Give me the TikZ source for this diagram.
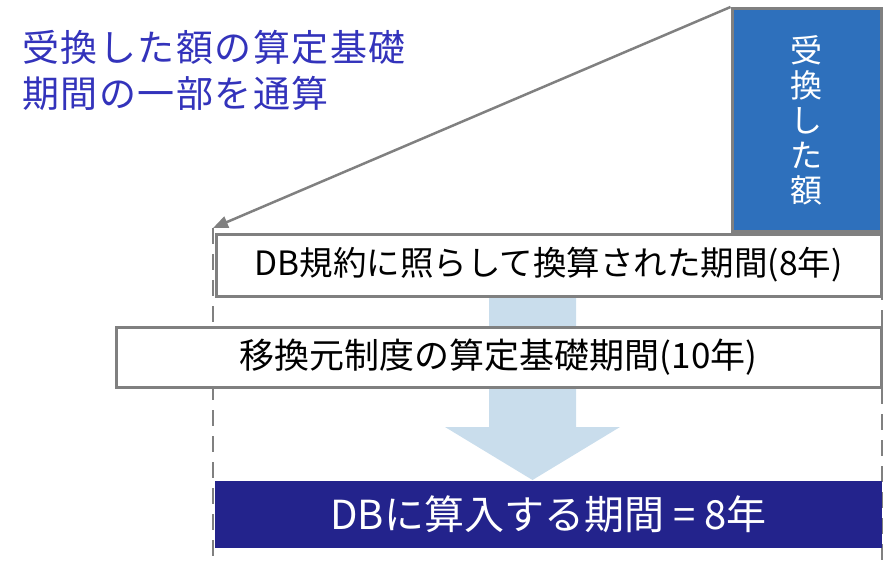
\documentclass[tikz,border=0pt]{standalone}
\usepackage{fontspec}
\setmainfont{Noto Sans CJK JP}
\newfontfamily\titlefont[LetterSpace=4]{Noto Sans CJK JP}
\usetikzlibrary{arrows.meta}
\definecolor{titleblue}{RGB}{51,51,187}
\definecolor{recvblue}{RGB}{46,112,188}
\definecolor{bordergray}{RGB}{128,128,128}
\definecolor{arrowblue}{RGB}{201,221,236}
\definecolor{navyfill}{RGB}{35,35,140}
\begin{document}
\begin{tikzpicture}[x=1pt,y=-1pt,
  titletext/.style={anchor=base west, inner sep=0pt, text=titleblue, font=\titlefont\fontsize{37}{40}\selectfont},
  periodbox/.style={draw=bordergray, line width=3pt, fill=white, inner sep=0pt, text=black, font=\fontsize{33.5}{40}\selectfont},
  recvbox/.style={draw=bordergray, line width=3pt, fill=recvblue, inner sep=0pt, text=white, align=center, font=\fontsize{32}{35}\selectfont},
  resultbox/.style={fill=navyfill, inner sep=0pt, text=white, font=\fontsize{40}{44}\selectfont},
  guide/.style={draw=bordergray, line width=2.5pt, dash pattern=on 16pt off 10pt},
  pointer/.style={draw=bordergray, line width=2.5pt, -{Triangle[length=15pt,width=12pt]}}
]
\useasboundingbox (0,0) rectangle (888,563);

% dashed guide lines
\coordinate (gl1) at (213,228);
\coordinate (gl2) at (213,563);
\coordinate (gr1) at (882,232);
\coordinate (gr2) at (882,563);
\draw[guide] (gl1) -- (gl2);
\draw[guide] (gr1) -- (gr2);

% big light blue arrow
\fill[arrowblue] (489,290) -- (576,290) -- (576,427) -- (620,427) -- (532.5,480) -- (445,427) -- (489,427) -- cycle;

% title
\node[titletext] (title1) at (22,61) {受換した額の算定基礎};
\node[titletext] (title2) at (22,107) {期間の一部を通算};

% boxes
\node[recvbox, minimum width=149pt, minimum height=223pt] (recv) at (806.5,120) {受\\換\\し\\た\\額};
\node[periodbox, minimum width=665pt, minimum height=62pt] (box1) at (548.5,265) {DB規約に照らして換算された期間(8年)};
\node[periodbox, minimum width=765pt, minimum height=60pt, font=\fontsize{35}{40}\selectfont] (box2) at (498.5,357) {移換元制度の算定基礎期間(10年)};
\node[resultbox, minimum width=667pt, minimum height=67pt] (result) at (548.5,514.5) {DBに算入する期間 = 8年};

% pointer arrow
\draw[pointer] (recv.north west) -- (gl1);
\end{tikzpicture}
\end{document}
